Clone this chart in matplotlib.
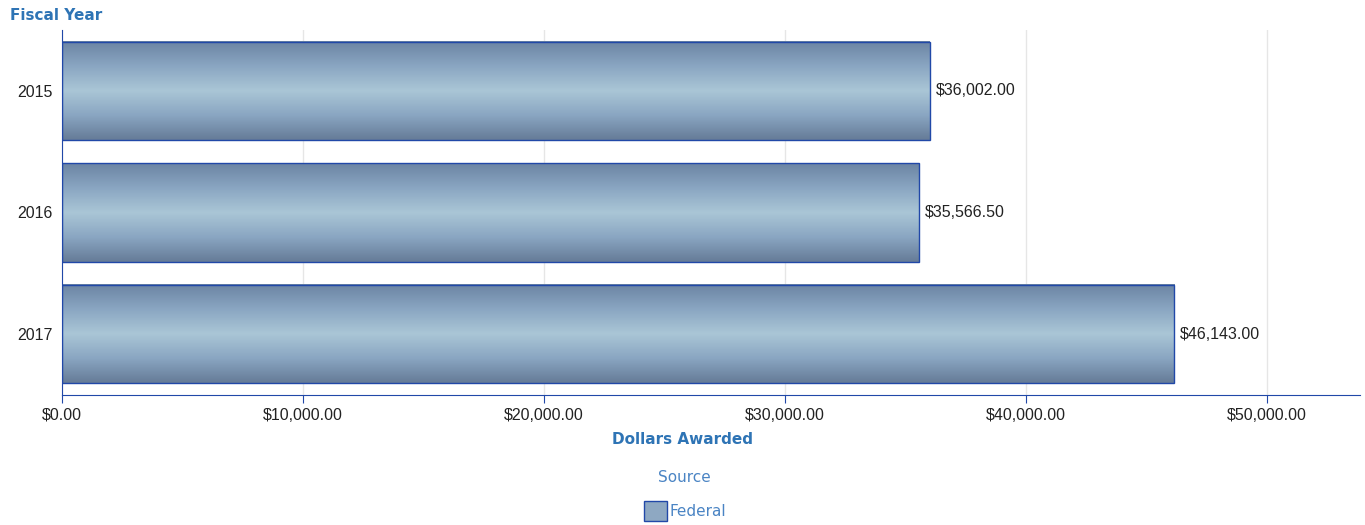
import numpy as np
import matplotlib.pyplot as plt
from matplotlib.patches import Patch
from matplotlib.ticker import FuncFormatter
from matplotlib.colors import LinearSegmentedColormap

years = ['2015', '2016', '2017']
awarded = [36002.00, 35566.50, 46143.00]
xticks_vals = [0, 10000, 20000, 30000, 40000, 50000]

blue_axis = '#2148a8'
title_blue = '#2e74b5'
leg_blue = '#4a84c4'
grad = LinearSegmentedColormap.from_list('bar', ['#6c85a4', '#8aa6c2', '#aac6d6', '#8aa6c2', '#667c98'])

fig = plt.figure(figsize=(13.65, 5.25), dpi=100)
ax = fig.add_axes([62 / 1365, 130 / 525, (1360 - 62) / 1365, 365 / 525])

ypos = np.arange(len(years))
bars = ax.barh(ypos, awarded, height=0.81, color='none', edgecolor=blue_axis, linewidth=1, zorder=3)

g = np.linspace(0, 1, 100).reshape(-1, 1)
for b in bars:
    x0, y0 = b.get_x(), b.get_y()
    ax.imshow(g, cmap=grad, aspect='auto', extent=[x0, x0 + b.get_width(), y0 + b.get_height(), y0],
              zorder=2, interpolation='bicubic')

for y, v in zip(ypos, awarded):
    ax.text(v + 250, y, '${:,.2f}'.format(v), va='center', ha='left', fontsize=11.5,
            family='Liberation Sans', color='#222222', zorder=4)

ax.set_xlim(0, 53860)
ax.set_ylim(2.5, -0.5)
ax.set_yticks(ypos)
ax.set_yticklabels(years)
ax.set_xticks(xticks_vals)
ax.xaxis.set_major_formatter(FuncFormatter(lambda v, p: '${:,.2f}'.format(v)))
ax.tick_params(axis='x', length=6, color=blue_axis, labelsize=11.5, labelcolor='#222222', pad=3)
ax.tick_params(axis='y', length=0, labelsize=11.5, labelcolor='#222222', pad=7)
for lab in ax.get_xticklabels() + ax.get_yticklabels():
    lab.set_family('Liberation Sans')
ax.grid(axis='x', color='#e6e6e6', linewidth=1, zorder=0)
ax.set_axisbelow(True)

for s in ['top', 'right']:
    ax.spines[s].set_visible(False)
ax.spines['left'].set_color(blue_axis)
ax.spines['bottom'].set_color(blue_axis)

fig.text(10 / 1365, 1 - 15 / 525, 'Fiscal Year', fontsize=11, fontweight='bold', color=title_blue, va='center', ha='left')
fig.text(683 / 1365, 1 - 439 / 525, 'Dollars Awarded', fontsize=11, fontweight='bold', color=title_blue, va='center', ha='center')
fig.text(684 / 1365, 1 - 477 / 525, 'Source', fontsize=11, color=leg_blue, va='center', ha='center')

leg = fig.legend(handles=[Patch(facecolor='#8ea8c2', edgecolor=blue_axis, label='Federal')],
                 loc='center', bbox_to_anchor=(685 / 1365, 1 - 511 / 525),
                 frameon=False, fontsize=11, handlelength=1.5, handleheight=1.6,
                 handletextpad=0.2, labelcolor=leg_blue, borderpad=0)

fig.savefig('out.png', dpi=100)
